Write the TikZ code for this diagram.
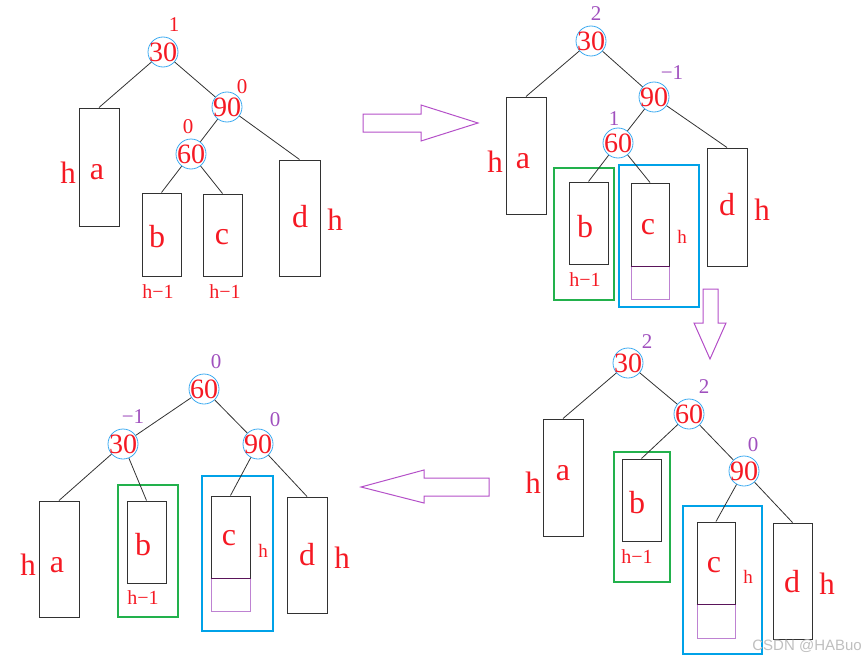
\documentclass[tikz,border=0pt]{standalone}
\usepackage{fontspec}
\setmainfont{Liberation Serif}
\newfontfamily\wmfont{Liberation Sans}
\definecolor{txtred}{RGB}{245,25,35}
\definecolor{bfpur}{RGB}{160,80,190}
\definecolor{circc}{RGB}{60,170,240}
\definecolor{grn}{RGB}{34,177,76}
\definecolor{blu}{RGB}{0,162,232}
\definecolor{purbox}{RGB}{190,130,210}
\definecolor{arrc}{RGB}{180,80,200}
\definecolor{boxc}{RGB}{50,50,50}
\definecolor{seam}{RGB}{90,20,90}
\tikzset{
  nc/.style={circle, draw=circc, line width=0.8pt, minimum size=30pt, inner sep=0pt,
     label={[text=txtred, font=\fontsize{28}{28}\selectfont, inner sep=0pt]center:#1}},
  bfr/.style={text=txtred, font=\fontsize{21}{21}\selectfont, inner sep=0pt},
  bfp/.style={text=bfpur, font=\fontsize{21}{21}\selectfont, inner sep=0pt},
  leaf/.style={draw=boxc, line width=1pt, inner sep=0pt},
  letter/.style={text=txtred, font=\fontsize{32}{32}\selectfont, inner sep=0pt},
  bigh/.style={text=txtred, font=\fontsize{31}{31}\selectfont, inner sep=0pt},
  smallh/.style={text=txtred, font=\fontsize{19}{19}\selectfont, inner sep=0pt},
  hm/.style={text=txtred, font=\fontsize{20}{20}\selectfont, inner sep=0pt},
  grpg/.style={draw=grn, line width=2.5pt},
  grpb/.style={draw=blu, line width=2.5pt},
  extra/.style={draw=purbox, line width=1pt},
  edge/.style={draw=boxc, line width=0.8pt},
  bigarrow/.style={draw=arrc, line width=1pt, line join=miter}
}
\begin{document}
\begin{tikzpicture}[x=1pt,y=-1pt]
\useasboundingbox (0,0) rectangle (864,661);
% ---------------- Panel 1 (top left) ----------------
\node[nc=30] (A30) at (163,52) {};
\node[nc=90] (A90) at (227,107) {};
\node[nc=60] (A60) at (191,154) {};
\node[bfr] (Ab30) at (174,25) {1};
\node[bfr] (Ab90) at (242,87) {0};
\node[bfr] (Ab60) at (188,127) {0};
\node[leaf, minimum width=40, minimum height=118] (Aa) at (99,167) {};
\node[leaf, minimum width=39, minimum height=83] (Ab) at (161.5,234.5) {};
\node[leaf, minimum width=39, minimum height=82] (Ac) at (222.5,235) {};
\node[leaf, minimum width=41, minimum height=116] (Ad) at (299.5,218) {};
\node[letter] (Ala) at (97,172) {a};
\node[letter] (Alb) at (157,237) {b};
\node[letter] (Alc) at (222,237) {c};
\node[letter] (Ald) at (300,217) {d};
\node[bigh] (Aha) at (68,173) {h};
\node[bigh] (Ahd) at (335,220) {h};
\node[hm] (Ahb) at (158,292) {h−1};
\node[hm] (Ahc) at (225,292) {h−1};
\draw[edge] (A30) -- (Aa.north);
\draw[edge] (A30) -- (A90);
\draw[edge] (A90) -- (A60);
\draw[edge] (A90) -- (Ad.north);
\draw[edge] (A60) -- (Ab.north);
\draw[edge] (A60) -- (Ac.north);
% ---------------- Panel 2 (top right) ----------------
\node[nc=30] (B30) at (591,41) {};
\node[nc=90] (B90) at (654,97) {};
\node[nc=60] (B60) at (618,143) {};
\node[bfp] (Bb30) at (596,14) {2};
\node[bfp] (Bb90) at (672,73) {−1};
\node[bfp] (Bb60) at (614,119) {1};
\node[grpg, minimum width=60, minimum height=132] (Bg) at (584,234) {};
\node[grpb, minimum width=80, minimum height=142] (Bbl) at (659,236) {};
\node[leaf, minimum width=40, minimum height=117] (Ba) at (526,155.5) {};
\node[leaf, minimum width=39, minimum height=82] (Bb) at (588.5,223) {};
\node[extra, minimum width=38, minimum height=33] (Bx) at (650,282.5) {};
\node[leaf, minimum width=38, minimum height=83] (Bc) at (650,224.5) {};
\draw[seam, line width=1pt] (Bc.south west) -- (Bc.south east);
\node[leaf, minimum width=40, minimum height=118] (Bd) at (727,207) {};
\node[letter] (Bla) at (523,161) {a};
\node[letter] (Blb) at (585,227) {b};
\node[letter] (Blc) at (648,227) {c};
\node[letter] (Bld) at (727,205) {d};
\node[bigh] (Bha) at (495,162) {h};
\node[hm] (Bhb) at (585,280) {h−1};
\node[smallh] (Bhc) at (682,237) {h};
\node[bigh] (Bhd) at (762,210) {h};
\draw[edge] (B30) -- (Ba.north);
\draw[edge] (B30) -- (B90);
\draw[edge] (B90) -- (B60);
\draw[edge] (B90) -- (Bd.north);
\draw[edge] (B60) -- (Bb.north);
\draw[edge] (B60) -- (Bc.north);
% ---------------- Panel 3 (bottom right) ----------------
\node[nc=30] (C30) at (628,363) {};
\node[nc=60] (C60) at (689,414) {};
\node[nc=90] (C90) at (744,471) {};
\node[bfp] (Cb30) at (647,342) {2};
\node[bfp] (Cb60) at (704,387) {2};
\node[bfp] (Cb90) at (753,445) {0};
\node[grpg, minimum width=56, minimum height=130] (Cg) at (642,517) {};
\node[grpb, minimum width=79, minimum height=148] (Cbl) at (722.5,580) {};
\node[leaf, minimum width=40, minimum height=117] (Ca) at (563,477.5) {};
\node[leaf, minimum width=39, minimum height=82] (Cb) at (641.5,500) {};
\node[extra, minimum width=38, minimum height=34] (Cx) at (716,621) {};
\node[leaf, minimum width=38, minimum height=82] (Cc) at (716,563) {};
\draw[seam, line width=1pt] (Cc.south west) -- (Cc.south east);
\node[leaf, minimum width=39, minimum height=116] (Cd) at (792.5,581) {};
\node[letter] (Cla) at (563,473) {a};
\node[letter] (Clb) at (637,503) {b};
\node[letter] (Clc) at (714,565) {c};
\node[letter] (Cld) at (792,582) {d};
\node[bigh] (Cha) at (533,483) {h};
\node[hm] (Chb) at (637,557) {h−1};
\node[smallh] (Chc) at (748,577) {h};
\node[bigh] (Chd) at (827,584) {h};
\draw[edge] (C30) -- (Ca.north);
\draw[edge] (C30) -- (C60);
\draw[edge] (C60) -- (Cb.north);
\draw[edge] (C60) -- (C90);
\draw[edge] (C90) -- (Cc.north);
\draw[edge] (C90) -- (Cd.north);
% ---------------- Panel 4 (bottom left) ----------------
\node[nc=60] (D60) at (204,389) {};
\node[nc=30] (D30) at (123,444) {};
\node[nc=90] (D90) at (258,444) {};
\node[bfp] (Db60) at (216,362) {0};
\node[bfp] (Db30) at (133,417) {−1};
\node[bfp] (Db90) at (275,420) {0};
\node[grpg, minimum width=60, minimum height=132] (Dg) at (148,551) {};
\node[grpb, minimum width=71, minimum height=155] (Dbl) at (237.5,553.5) {};
\node[leaf, minimum width=40, minimum height=116] (Da) at (59,559) {};
\node[leaf, minimum width=39, minimum height=82] (Db) at (146.5,542) {};
\node[extra, minimum width=39, minimum height=33] (Dx) at (230.5,594.5) {};
\node[leaf, minimum width=39, minimum height=82] (Dc) at (230.5,537) {};
\draw[seam, line width=1pt] (Dc.south west) -- (Dc.south east);
\node[leaf, minimum width=40, minimum height=116] (Dd) at (307,555) {};
\node[letter] (Dla) at (57,565) {a};
\node[letter] (Dlb) at (143,545) {b};
\node[letter] (Dlc) at (229,538) {c};
\node[letter] (Dld) at (307,555) {d};
\node[bigh] (Dha) at (28,565) {h};
\node[hm] (Dhb) at (143,598) {h−1};
\node[smallh] (Dhc) at (263,551) {h};
\node[bigh] (Dhd) at (342,558) {h};
\draw[edge] (D60) -- (D30);
\draw[edge] (D60) -- (D90);
\draw[edge] (D30) -- (Da.north);
\draw[edge] (D30) -- (Db.north);
\draw[edge] (D90) -- (Dc.north);
\draw[edge] (D90) -- (Dd.north);
% ---------------- Transition arrows ----------------
\draw[bigarrow] (363,114) -- (421,114) -- (421,105) -- (478,123) -- (421,141) -- (421,132) -- (363,132) -- cycle;
\draw[bigarrow] (703,289) -- (718,289) -- (718,323) -- (726,323) -- (710,359) -- (694,323) -- (703,323) -- cycle;
\draw[bigarrow] (489,478) -- (424,478) -- (424,470) -- (361,487) -- (424,503) -- (424,496) -- (489,496) -- cycle;
% ---------------- Watermark ----------------
\node[anchor=east, text=black!25, font=\wmfont\fontsize{15}{15}\selectfont, inner sep=0pt] (wm) at (862,646) {CSDN @HABuo};
\end{tikzpicture}
\end{document}
